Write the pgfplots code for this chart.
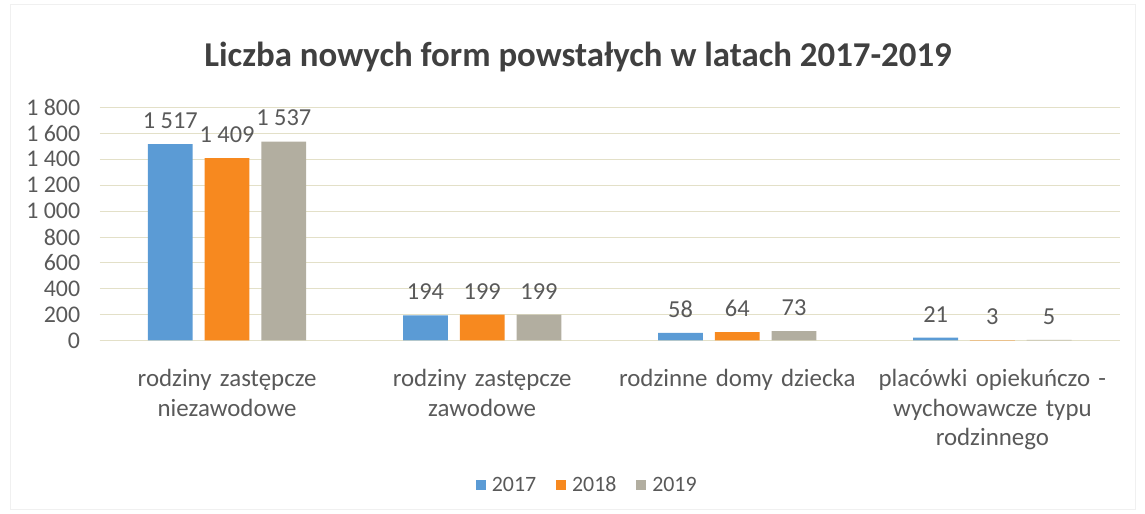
\documentclass[border=0pt]{standalone}
\usepackage{pgfplots}
\pgfplotsset{compat=1.18}
\usepackage{fontspec}
\setmainfont{Carlito}
\definecolor{c17}{HTML}{5B9BD5}
\definecolor{c18}{HTML}{F7891F}
\definecolor{c19}{HTML}{B2AEA0}
\definecolor{txt}{HTML}{595959}
\definecolor{ttl}{HTML}{404040}
\definecolor{gridc}{HTML}{E3E0C8}
\begin{document}
\begin{tikzpicture}
\path (-100pt,-174pt) rectangle (1045pt,342pt);
\draw[gray!12] (-90pt,-170pt) rectangle (1040pt,338pt);
\begin{axis}[
  at={(0,0)}, anchor=south west,
  scale only axis, width=1025pt, height=234pt,
  ybar=12pt, bar width=45pt,
  xmin=-0.5, xmax=3.5, ymin=0, ymax=1800,
  xtick={0,1,2,3},
  xticklabels={{rodziny zastępcze\\niezawodowe},{rodziny zastępcze\\zawodowe},{rodzinne domy dziecka},{placówki opiekuńczo -\\wychowawcze typu\\rodzinnego}},
  ytick={0,200,...,1800},
  ymajorgrids, grid style={color=gridc, line width=0.8pt},
  separate axis lines,
  axis x line*=bottom, axis y line*=left,
  y axis line style={draw=none},
  x axis line style={draw=gridc, line width=0.8pt},
  major tick length=0pt,
  /pgf/number format/1000 sep={\ },
  /pgf/number format/assume math mode=true,
  yticklabel style={font=\fontsize{24}{28}\selectfont, color=txt, xshift=-16pt},
  xticklabel style={text width=300pt, align=center, font=\fontsize{25}{30}\selectfont, color=txt, yshift=-25pt},
  nodes near coords,
  nodes near coords style={font=\fontsize{24.5}{28}\selectfont, color=txt, anchor=south, yshift=12pt},
  title={Liczba nowych form powstałych w latach 2017-2019},
  title style={at={(0.469,1.19)}, anchor=center, font=\fontsize{35}{40}\selectfont\bfseries, color=ttl},
  legend style={at={(0.478,-0.62)}, anchor=center, draw=none, legend columns=-1, font=\fontsize{22}{26}\selectfont, text=txt,
    /tikz/every even column/.append style={column sep=18pt}},
  legend image code/.code={\fill[#1,draw=none] (0pt,-5pt) rectangle (10pt,5pt); \path (14pt,0pt);},
]
\addplot[fill=c17, draw=none] coordinates {(0,1517) (1,194) (2,58) (3,21)};
\addplot[fill=c18, draw=none] coordinates {(0,1409) (1,199) (2,64) (3,3)};
\addplot[fill=c19, draw=none] coordinates {(0,1537) (1,199) (2,73) (3,5)};
\legend{2017,2018,2019}
\end{axis}
\end{tikzpicture}
\end{document}
